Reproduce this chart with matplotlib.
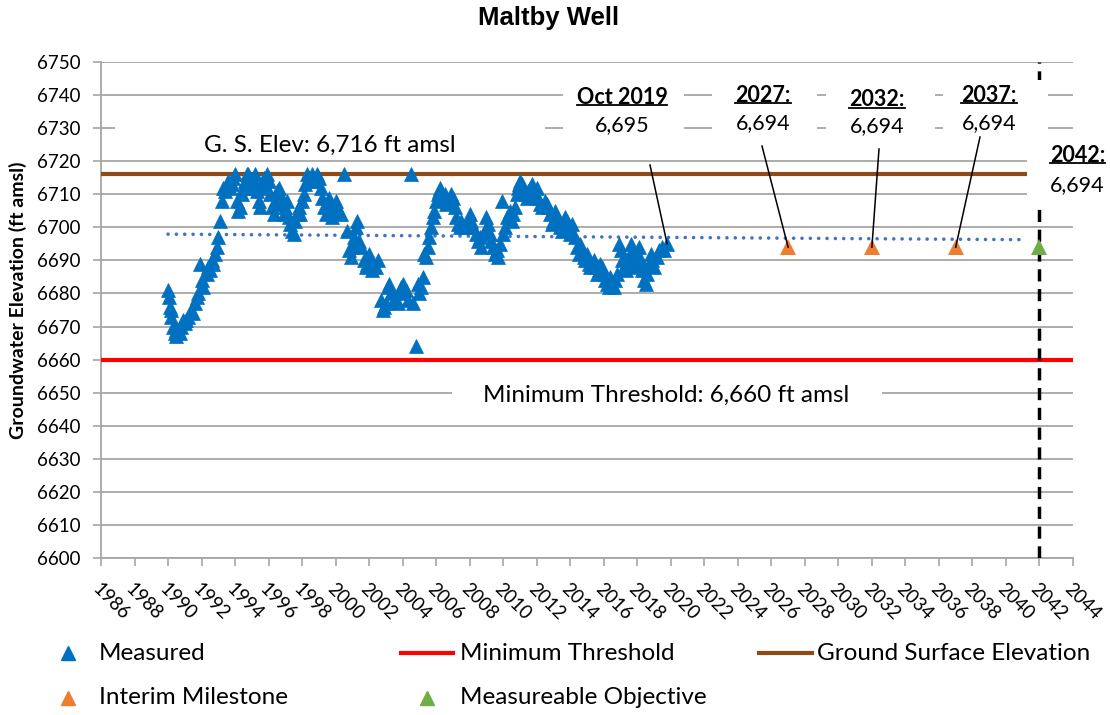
import numpy as np
import matplotlib
matplotlib.use("Agg")
import matplotlib.pyplot as plt
from matplotlib.lines import Line2D
from matplotlib.patches import Rectangle

# ---------------------------------------------------------------- data
measured_year = [
    1990.0, 1990.05, 1990.1, 1990.15, 1990.2, 1990.3, 1990.4, 1990.45, 1990.5, 1990.6,
    1990.7, 1990.8, 1990.9, 1991.0, 1991.1, 1991.2, 1991.4, 1991.5, 1991.6, 1991.7,
    1991.8, 1991.9, 1992.0, 1992.1, 1992.3, 1992.4, 1992.5, 1992.6, 1992.7, 1992.8,
    1992.9, 1993.0, 1993.1, 1993.2, 1993.3, 1993.4, 1993.5, 1993.6, 1993.7, 1993.8,
    1993.9, 1994.0, 1994.1, 1994.2, 1994.3, 1994.4, 1994.5, 1994.6, 1994.7, 1994.8,
    1994.9, 1995.0, 1995.1, 1995.2, 1995.3, 1995.4, 1995.5, 1995.6, 1995.7, 1995.8,
    1995.9, 1996.0, 1996.1, 1996.2, 1996.3, 1996.4, 1996.5, 1996.6, 1996.7, 1996.8,
    1996.9, 1997.0, 1997.1, 1997.2, 1997.3, 1997.4, 1997.5, 1997.6, 1997.7, 1997.8,
    1997.9, 1998.0, 1998.1, 1998.2, 1998.3, 1998.4, 1998.5, 1998.6, 1998.7, 1998.8,
    1998.9, 1999.0, 1999.1, 1999.2, 1999.3, 1999.4, 1999.5, 1999.6, 1999.7, 1999.8,
    1999.9, 2000.0, 2000.1, 2000.3, 2000.5, 2000.7, 2000.8, 2000.9, 2001.0, 2001.1,
    2001.2, 2001.3, 2001.4, 2001.5, 2001.7, 2001.8, 2001.9, 2002.0, 2002.1, 2002.2,
    2002.4, 2002.5, 2002.7, 2002.8, 2002.9, 2003.0, 2003.1, 2003.2, 2003.3, 2003.5,
    2003.7, 2003.8, 2003.9, 2004.0, 2004.2, 2004.3, 2004.5, 2004.6, 2004.8, 2004.9,
    2005.0, 2005.1, 2005.2, 2005.3, 2005.4, 2005.5, 2005.6, 2005.7, 2005.8, 2005.9,
    2006.0, 2006.1, 2006.15, 2006.2, 2006.3, 2006.35, 2006.4, 2006.5, 2006.6, 2006.7,
    2006.8, 2006.9, 2007.0, 2007.1, 2007.2, 2007.3, 2007.4, 2007.5, 2007.7, 2007.9,
    2008.0, 2008.1, 2008.2, 2008.4, 2008.5, 2008.6, 2008.7, 2008.9, 2009.0, 2009.1,
    2009.2, 2009.3, 2009.4, 2009.5, 2009.6, 2009.7, 2009.8, 2009.9, 2010.0, 2010.1,
    2010.2, 2010.4, 2010.5, 2010.6, 2010.7, 2010.8, 2010.9, 2010.95, 2011.0, 2011.1,
    2011.15, 2011.2, 2011.3, 2011.4, 2011.5, 2011.6, 2011.65, 2011.7, 2011.8, 2011.9,
    2012.0, 2012.1, 2012.2, 2012.3, 2012.5, 2012.6, 2012.7, 2012.8, 2012.9, 2013.0,
    2013.1, 2013.2, 2013.4, 2013.5, 2013.6, 2013.7, 2013.8, 2013.9, 2014.0, 2014.1,
    2014.3, 2014.4, 2014.5, 2014.6, 2014.7, 2014.8, 2014.9, 2015.0, 2015.1, 2015.2,
    2015.4, 2015.5, 2015.6, 2015.7, 2015.8, 2015.9, 2016.0, 2016.1, 2016.2, 2016.3,
    2016.4, 2016.5, 2016.6, 2016.7, 2016.8, 2016.9, 2017.0, 2017.1, 2017.2, 2017.3,
    2017.4, 2017.5, 2017.6, 2017.7, 2017.8, 2017.9, 2018.0, 2018.1, 2018.2, 2018.3,
    2018.4, 2018.5, 2018.6, 2018.7, 2018.8, 2018.9, 2019.0, 2019.2, 2019.3, 2019.5,
    2019.6, 2019.78,
]
measured_elev = [
    6681, 6679, 6676, 6675, 6673, 6670, 6668, 6669, 6667, 6669,
    6668, 6670, 6672, 6671, 6672, 6673, 6675, 6674, 6677, 6679,
    6680, 6689, 6684, 6682, 6686, 6688, 6687, 6690, 6689, 6692,
    6694, 6697, 6702, 6708, 6712, 6711, 6713, 6714, 6712, 6713,
    6715, 6716, 6708, 6705, 6706, 6710, 6712, 6714, 6716, 6716,
    6713, 6712, 6714, 6716, 6711, 6708, 6706, 6712, 6715, 6713,
    6716, 6714, 6710, 6706, 6704, 6708, 6711, 6712, 6710, 6707,
    6704, 6706, 6708, 6703, 6701, 6699, 6698, 6702, 6704, 6706,
    6704, 6708, 6710, 6713, 6716, 6715, 6714, 6716, 6714, 6715,
    6716, 6715, 6712, 6709, 6706, 6704, 6707, 6709, 6706, 6703,
    6705, 6708, 6706, 6704, 6716, 6699, 6693, 6691, 6694, 6697,
    6700, 6702, 6696, 6694, 6690, 6688, 6689, 6692, 6689, 6687,
    6688, 6690, 6678, 6675, 6676, 6677, 6682, 6683, 6680, 6678,
    6677, 6680, 6682, 6683, 6681, 6678, 6716, 6677, 6664, 6683,
    6680, 6682, 6685, 6692, 6691, 6694, 6697, 6700, 6703, 6705,
    6708, 6710, 6711, 6712, 6711, 6710, 6709, 6710, 6707, 6708,
    6709, 6710, 6709, 6706, 6703, 6701, 6700, 6702, 6700, 6702,
    6704, 6702, 6700, 6698, 6696, 6697, 6694, 6699, 6703, 6701,
    6698, 6696, 6694, 6692, 6693, 6691, 6695, 6708, 6698, 6700,
    6703, 6705, 6702, 6704, 6706, 6710, 6712, 6713, 6714, 6713,
    6712, 6711, 6710, 6709, 6711, 6712, 6711, 6713, 6711, 6710,
    6712, 6709, 6707, 6706, 6708, 6707, 6706, 6704, 6701, 6702,
    6705, 6703, 6700, 6699, 6701, 6703, 6702, 6700, 6698, 6701,
    6697, 6694, 6692, 6695, 6693, 6691, 6690, 6692, 6689, 6688,
    6690, 6688, 6686, 6687, 6689, 6688, 6686, 6684, 6683, 6682,
    6685, 6683, 6682, 6684, 6686, 6695, 6693, 6690, 6688, 6687,
    6689, 6691, 6695, 6693, 6690, 6688, 6691, 6694, 6690, 6687,
    6684, 6683, 6686, 6689, 6692, 6690, 6688, 6691, 6693, 6694,
    6693, 6695,
]

milestone_year = [2027, 2032, 2037]
milestone_elev = [6694, 6694, 6694]
objective_year = [2042]
objective_elev = [6694]

current_label = "Oct 2019"
current_year = 2019.78
current_elev = 6695

min_threshold = 6660
ground_surface = 6716

x_ticks = list(range(1986, 2045, 2))
y_ticks = list(range(6600, 6751, 10))

# ---------------------------------------------------------------- style
W, H = 1110, 715
FONT = ["Lato", "DejaVu Sans"]
plt.rcParams["font.family"] = FONT

C_MEAS = "#0070C0"
C_MILE = "#ED7D31"
C_OBJ = "#70AD47"
C_MIN = "#FF0000"
C_GS = "#8E4B17"
C_TREND = "#4472C4"
C_GRID = "#A6A6A6"


def fx(px):
    return px / W


def fy(py):
    return 1 - py / H


fig = plt.figure(figsize=(W / 100, H / 100), dpi=100)
ax = fig.add_axes([fx(101), fy(558), (1073 - 101) / W, (558 - 62) / H])
ax.set_xlim(1986, 2044)
ax.set_ylim(6600, 6750)

ax.set_xticks(x_ticks)
ax.set_yticks(y_ticks)
ax.set_xticklabels([str(t) for t in x_ticks], rotation=-45, ha="left",
                   va="top", rotation_mode="anchor", fontsize=13.5)
ax.set_yticklabels([str(t) for t in y_ticks], fontsize=13.5)
ax.tick_params(axis="both", color=C_GRID, length=6, width=1.2)
ax.tick_params(axis="y", pad=9)
ax.tick_params(axis="x", pad=10)

ax.grid(axis="y", color=C_GRID, lw=1.3)
ax.set_axisbelow(True)
for s in ("top", "right"):
    ax.spines[s].set_visible(False)
for s in ("left", "bottom"):
    ax.spines[s].set_color(C_GRID)
    ax.spines[s].set_linewidth(1.3)

# horizontal reference lines
ax.axhline(min_threshold, color=C_MIN, lw=3, zorder=3)
ax.axhline(ground_surface, color=C_GS, lw=3, zorder=3)

# linear trend of the measured record, projected forward
coef = np.polyfit(measured_year, measured_elev, 1)
trend_x = np.array([1990.0, 2041.0])
ax.plot(trend_x, np.polyval(coef, trend_x), color=C_TREND, lw=2.6,
        ls=(0, (0.01, 2.3)), dash_capstyle="round", zorder=3)

# 2042 marker line
ax.axvline(2042, color="black", lw=2.5, ls=(0, (3.5, 2.2)), zorder=3)

ax.plot(measured_year, measured_elev, ls="none", marker="^", ms=10.5,
        color=C_MEAS, mec=C_MEAS, mew=0.5, zorder=5)
ax.plot(milestone_year, milestone_elev, ls="none", marker="^", ms=12,
        color=C_MILE, mew=0, zorder=5)
ax.plot(objective_year, objective_elev, ls="none", marker="^", ms=11,
        color=C_OBJ, mew=0, zorder=5)

# white label panels (covering gridlines under the labels)
panels = [
    (115, 108, 545, 160),    # ground surface label
    (563, 80, 684, 140),     # Oct 2019
    (712, 80, 817, 140),     # 2027
    (826, 80, 935, 140),     # 2032
    (943, 80, 1048, 140),    # 2037
    (1027, 140, 1110, 207),  # 2042
    (452, 378, 882, 412),    # minimum threshold
]
for x0, y0, x1, y1 in panels:
    ax.add_patch(Rectangle((fx(x0), fy(y1)), fx(x1) - fx(x0), fy(y0) - fy(y1),
                           transform=fig.transFigure, facecolor="white",
                           edgecolor="none", zorder=4, clip_on=False))

# leader lines from labels to points
leaders = [
    ((650, 165), (current_year, current_elev)),
    ((762, 146), (milestone_year[0], milestone_elev[0])),
    ((879, 149), (milestone_year[1], milestone_elev[1])),
    ((980, 137), (milestone_year[2], milestone_elev[2])),
]
for (px, py), (dx, dy) in leaders:
    tx, ty = ax.transData.inverted().transform(
        fig.transFigure.transform((fx(px), fy(py))))
    ax.plot([tx, dx], [ty, dy], color="black", lw=1.1, zorder=6, clip_on=False)

# label text
TXT = 15.5
BODY = 17.5
fig.text(fx(330), fy(145), "G. S. Elev: 6,716 ft amsl", fontsize=BODY,
         ha="center", va="center", zorder=7)
fig.text(fx(666), fy(395), "Minimum Threshold: 6,660 ft amsl", fontsize=BODY,
         ha="center", va="center", zorder=7)

heads = []
label_specs = [
    (622, 97, 125, current_label, f"{current_elev:,}", "center"),
    (763, 95, 123, f"{milestone_year[0]}:", f"{milestone_elev[0]:,}", "center"),
    (877, 100, 126, f"{milestone_year[1]}:", f"{milestone_elev[1]:,}", "center"),
    (989, 95, 123, f"{milestone_year[2]}:", f"{milestone_elev[2]:,}", "center"),
    (1050, 155, 185, f"{objective_year[0]}:", f"{objective_elev[0]:,}", "left"),
]
for px, py1, py2, head, val, ha in label_specs:
    t = fig.text(fx(px), fy(py1), head, fontsize=TXT, fontweight="bold",
                 ha=ha, va="center", zorder=7)
    heads.append(t)
    fig.text(fx(px), fy(py2), val, fontsize=TXT, ha=ha, va="center", zorder=7)

fig.text(fx(549), fy(18), "Maltby Well", fontsize=18.5, fontweight="bold",
         ha="center", va="center", family=["Liberation Sans", "DejaVu Sans"])
fig.text(fx(18), fy(300), "Groundwater Elevation (ft amsl)", fontsize=14,
         fontweight="bold", rotation=90, ha="center", va="center")

# legend
LEG = 17.5
row1, row2 = 653, 698
fig.add_artist(Line2D([fx(68)], [fy(row1)], ls="none", marker="^", ms=10,
                      color=C_MEAS, transform=fig.transFigure))
fig.text(fx(99), fy(row1), "Measured", fontsize=LEG, va="center")
fig.add_artist(Line2D([fx(401), fx(453)], [fy(row1)] * 2, color=C_MIN, lw=3,
                      transform=fig.transFigure))
fig.text(fx(460), fy(row1), "Minimum Threshold", fontsize=LEG, va="center")
fig.add_artist(Line2D([fx(759), fx(812)], [fy(row1)] * 2, color=C_GS, lw=3,
                      transform=fig.transFigure))
fig.text(fx(817), fy(row1), "Ground Surface Elevation", fontsize=LEG, va="center")
fig.add_artist(Line2D([fx(68)], [fy(row2)], ls="none", marker="^", ms=10,
                      color=C_MILE, transform=fig.transFigure))
fig.text(fx(99), fy(row2), "Interim Milestone", fontsize=LEG, va="center")
fig.add_artist(Line2D([fx(427)], [fy(row2)], ls="none", marker="^", ms=10,
                      color=C_OBJ, transform=fig.transFigure))
fig.text(fx(460), fy(row2), "Measureable Objective", fontsize=LEG, va="center")

# underline the label headings
fig.canvas.draw()
renderer = fig.canvas.get_renderer()
inv = fig.transFigure.inverted()
for t in heads:
    bb = t.get_window_extent(renderer)
    (x0, y0), (x1, _) = inv.transform([[bb.x0, bb.y0 + 3], [bb.x1, bb.y0 + 3]])
    fig.add_artist(Line2D([x0, x1], [y0, y0], color="black", lw=1.3,
                          transform=fig.transFigure))

fig.savefig("out.png", dpi=100)
